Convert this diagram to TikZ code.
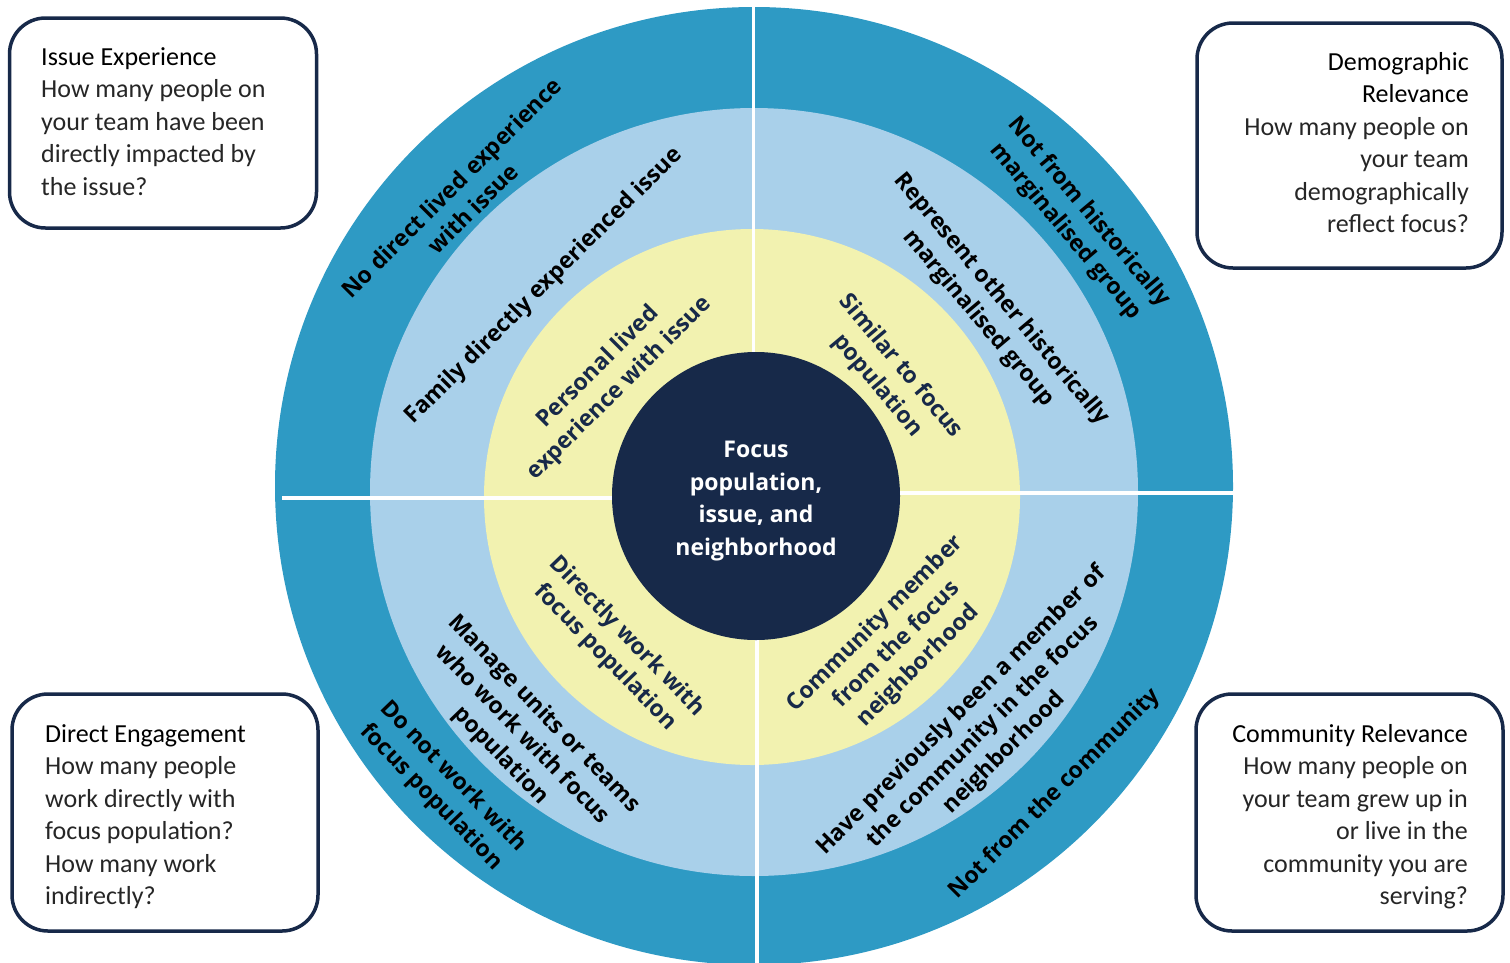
\documentclass[tikz,border=0pt]{standalone}
\usepackage{fontspec}
\setmainfont{Carlito}
\newfontfamily\ringfont{Open Sans}
\definecolor{outerblue}{RGB}{46,154,196}
\definecolor{lightblue}{RGB}{169,208,234}
\definecolor{paleyellow}{RGB}{242,242,176}
\definecolor{navy}{RGB}{23,41,73}
\definecolor{boxtext}{RGB}{38,38,38}
\begin{document}
\begin{tikzpicture}[x=1pt,y=-1pt,
  ring/.style={font=\ringfont\bfseries\fontsize{23}{30}\selectfont, align=center, inner sep=0pt},
  boxframe/.style={draw=navy, line width=3.5pt, rounded corners=36pt, fill=white, inner sep=0pt},
  boxtxt/.style={font=\fontsize{26}{32.5}\selectfont, inner sep=0pt, text=boxtext},
  sep/.style={white, line width=3.5pt},
]
\useasboundingbox (0,0) rectangle (1510,962);
% rings
\fill[outerblue] (754,486) circle[radius=479pt];
\fill[lightblue] (754,492) circle[radius=384pt];
\fill[paleyellow] (752,497) circle[radius=268pt];
\draw[sep] (282,498) -- (720,498);
\draw[sep] (790,493) -- (1236,493);
\draw[sep] (753.5,4) -- (753.5,450);
\draw[sep] (757,540) -- (757,966);
\node[circle, fill=navy, minimum size=288pt, inner sep=0pt] (core) at (756,496) {};
\node[ring, text=white, font=\ringfont\bfseries\fontsize{23}{32.5}\selectfont] (coretext) at (756,501) {Focus\\population,\\issue, and\\neighborhood};
% top-left quadrant
\node[ring, rotate=45] (tlo) at (462,198) {No direct lived experience\\with issue};
\node[ring, rotate=45] (tlm) at (544,286) {Family directly experienced issue};
\node[ring, rotate=45, text=navy] (tli) at (609,378) {Personal lived\\experience with issue};
% top-right quadrant
\node[ring, rotate=-50] (tro) at (1077,222) {Not from historically\\marginalised group};
\node[ring, rotate=-50] (trm) at (990,309) {Represent other historically\\marginalised group};
\node[ring, rotate=-50, text=navy] (tri) at (889,376) {Similar to focus\\population};
% bottom-left quadrant
\node[ring, rotate=-46, text=navy] (bli) at (616,647) {Directly work with\\focus population};
\node[ring, rotate=-46] (blm) at (522,735) {Manage units or teams\\who work with focus\\population};
\node[ring, rotate=-46] (blo) at (442,787) {Do not work with\\focus population};
% bottom-right quadrant
\node[ring, rotate=45, text=navy] (bri) at (897,645) {Community member\\from the focus\\neighborhood};
\node[ring, rotate=45] (brm) at (983,732) {Have previously been a member of\\the community in the focus\\neighborhood};
\node[ring, rotate=45] (bro) at (1055,794) {Not from the community};
% boxes
\node[boxframe, minimum width=307pt, minimum height=210pt] (boxtl) at (163,123) {};
\node[boxtxt, anchor=base west] (txttl) at (41,65) {\begin{tabular}[t]{@{}l@{}}\textcolor{black}{Issue Experience}\\How many people on\\your team have been\\directly impacted by\\the issue?\end{tabular}};
\node[boxframe, minimum width=305pt, minimum height=245pt] (boxtr) at (1349.5,145.5) {};
\node[boxtxt, anchor=base east] (txttr) at (1469,70) {\begin{tabular}[t]{@{}r@{}}\textcolor{black}{Demographic}\\\textcolor{black}{Relevance}\\How many people on\\your team\\demographically\\reflect focus?\end{tabular}};
\node[boxframe, minimum width=306pt, minimum height=237pt] (boxbl) at (165,812.5) {};
\node[boxtxt, anchor=base west] (txtbl) at (45,742) {\begin{tabular}[t]{@{}l@{}}\textcolor{black}{Direct Engagement}\\How many people\\work directly with\\focus population?\\How many work\\indirectly?\end{tabular}};
\node[boxframe, minimum width=307pt, minimum height=237pt] (boxbr) at (1349.5,812.5) {};
\node[boxtxt, anchor=base east] (txtbr) at (1468,742) {\begin{tabular}[t]{@{}r@{}}\textcolor{black}{Community Relevance}\\How many people on\\your team grew up in\\or live in the\\community you are\\serving?\end{tabular}};
\end{tikzpicture}
\end{document}
